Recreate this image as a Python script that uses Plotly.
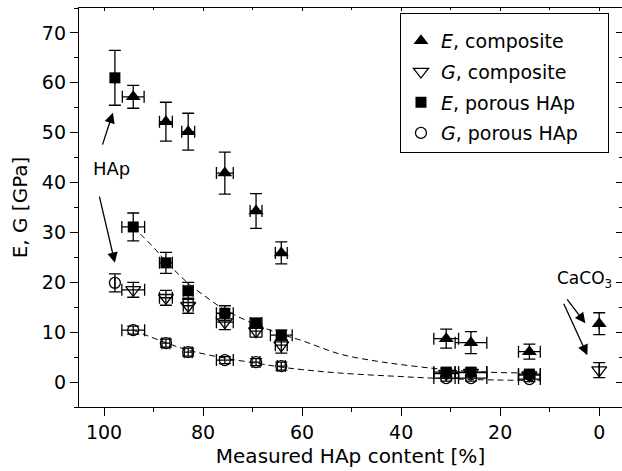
import plotly.graph_objects as go

FONT = "DejaVu Sans, Liberation Sans, Arial, sans-serif"

# ---- data ----
# E, composite
ec_x = [94.1, 87.5, 83.0, 75.6, 69.3, 64.2, 30.9, 25.9, 14.1, 0.0]
ec_y = [57.2, 52.2, 50.2, 41.9, 34.3, 25.9, 8.7, 7.9, 6.1, 11.7]
ec_ey = [2.3, 3.9, 3.7, 4.2, 3.5, 2.2, 1.9, 2.2, 1.5, 2.2]
ec_ex = [2.2, 1.3, 1.3, 1.7, 1.2, 1.2, 2.5, 3.2, 2.2, 0.0]

# G, composite
gc_x = [94.1, 87.5, 83.0, 75.6, 69.3, 64.2, 30.9, 25.9, 14.1, 0.0]
gc_y = [18.5, 16.9, 15.3, 12.0, 10.2, 7.4, 1.7, 1.9, 1.4, 2.4]
gc_ey = [1.5, 1.5, 1.5, 1.5, 1.2, 1.6, 0.6, 0.6, 0.5, 1.5]
gc_ex = [2.3, 1.3, 1.0, 1.7, 1.2, 1.2, 2.5, 3.2, 2.2, 0.0]

# E, porous HAp
ep_x = [97.8, 94.1, 87.5, 83.0, 75.6, 69.3, 64.2, 30.9, 25.9, 14.1]
ep_y = [61.0, 31.1, 23.9, 18.3, 13.8, 11.8, 9.4, 2.0, 2.0, 1.6]
ep_ey = [5.5, 2.8, 2.1, 1.7, 1.5, 1.0, 1.0, 0.8, 0.8, 0.6]
ep_ex = [0.0, 2.3, 1.3, 1.0, 1.7, 1.2, 2.2, 2.5, 3.2, 2.2]

# G, porous HAp
gp_x = [97.8, 94.1, 87.5, 83.0, 75.6, 69.3, 64.2, 30.9, 25.9, 14.1]
gp_y = [19.9, 10.4, 7.8, 6.0, 4.4, 4.0, 3.2, 0.8, 0.8, 0.6]
gp_ey = [1.8, 0.8, 0.8, 0.8, 0.7, 0.7, 0.8, 0.6, 0.6, 0.5]
gp_ex = [0.0, 2.3, 0.8, 0.8, 1.7, 0.8, 0.8, 2.5, 3.2, 2.2]

# dashed fit curves
fitE_x = [94.1, 90.0, 87.5, 83.0, 80.0, 75.6, 70.0, 64.2, 60.0, 52.3, 45.0, 40.0, 34.0, 30.0, 25.0, 20.0, 14.0, 12.0]
fitE_y = [31.1, 27.0, 24.2, 19.8, 17.5, 14.5, 11.8, 9.6, 8.3, 5.6, 4.2, 3.5, 2.8, 2.4, 2.1, 1.9, 1.8, 1.7]
fitG_x = [94.1, 87.5, 83.0, 75.6, 69.3, 64.2, 60.0, 52.3, 40.0, 34.0, 25.0, 20.0, 12.0]
fitG_y = [10.4, 7.9, 6.4, 4.8, 3.8, 3.0, 2.5, 1.8, 1.1, 0.8, 0.5, 0.4, 0.3]

x_ticks = [0, 20, 40, 60, 80, 100]
y_ticks = [0, 10, 20, 30, 40, 50, 60, 70]

PAD = "\u00a0" * 4  # right padding inside the legend box

fig = go.Figure()

def err(arr, w):
    return dict(type="data", array=arr, visible=True, color="black", thickness=1.3, width=w)

for fx, fy in ((fitE_x, fitE_y), (fitG_x, fitG_y)):
    fig.add_trace(go.Scatter(x=fx, y=fy, mode="lines",
                             line=dict(color="black", width=1, dash="6px,4px", shape="spline"),
                             showlegend=False, hoverinfo="skip"))

fig.add_trace(go.Scatter(x=ec_x, y=ec_y, mode="markers", name="<i>E</i>, composite" + PAD, legendgroup="a",
                         marker=dict(symbol="triangle-up", size=13, color="black"),
                         error_y=err(ec_ey, 6), error_x=err(ec_ex, 6)))
fig.add_trace(go.Scatter(x=gc_x, y=gc_y, mode="markers", name="<i>G</i>, composite" + PAD, legendgroup="b",
                         marker=dict(symbol="triangle-down-open", size=13, color="black", line=dict(width=1.3)),
                         error_y=err(gc_ey, 6), error_x=err(gc_ex, 6)))
fig.add_trace(go.Scatter(x=ep_x, y=ep_y, mode="markers", name="<i>E</i>, porous HAp" + PAD, legendgroup="c",
                         marker=dict(symbol="square", size=11, color="black"),
                         error_y=err(ep_ey, 6), error_x=err(ep_ex, 6)))
fig.add_trace(go.Scatter(x=gp_x, y=gp_y, mode="markers", name="<i>G</i>, porous HAp" + PAD, legendgroup="d",
                         marker=dict(symbol="circle-open", size=11, color="black", line=dict(width=1.3)),
                         error_y=err(gp_ey, 6), error_x=err(gp_ex, 6)))

# invisible trace for mirrored axes
fig.add_trace(go.Scatter(x=[50], y=[30], xaxis="x2", yaxis="y2", mode="markers",
                         marker=dict(opacity=0), showlegend=False, hoverinfo="skip"))

xr = [105.05, -4.6]
yr = [-5.0, 75.0]

fig.update_layout(
    width=622, height=471,
    margin=dict(l=79, r=0, t=8, b=64),
    paper_bgcolor="white", plot_bgcolor="white",
    font=dict(family=FONT, size=19, color="black"),
    xaxis=dict(range=xr, tickvals=x_ticks, ticks="outside", ticklen=8, tickwidth=1.3, tickcolor="black",
               showline=True, linecolor="black", linewidth=1.3, showgrid=False, zeroline=False,
               minor=dict(dtick=10, tick0=0, ticks="outside", ticklen=4, tickwidth=1.1, tickcolor="black", showgrid=False),
               title=dict(text="Measured HAp content [%]", font=dict(size=20), standoff=7),
               tickfont=dict(size=19)),
    yaxis=dict(range=yr, tickvals=y_ticks, ticks="outside", ticklen=8, tickwidth=1.3, tickcolor="black",
               showline=True, linecolor="black", linewidth=1.3, showgrid=False, zeroline=False,
               minor=dict(dtick=5, tick0=0, ticks="outside", ticklen=4, tickwidth=1.1, tickcolor="black", showgrid=False),
               title=dict(text="E, G [GPa]", font=dict(size=20), standoff=8),
               tickfont=dict(size=19)),
    xaxis2=dict(range=xr, overlaying="x", side="top", tickvals=x_ticks, ticks="inside", ticklen=3, tickcolor="black",
                showticklabels=False, showline=True, linecolor="black", linewidth=1.3, showgrid=False, zeroline=False,
                minor=dict(dtick=10, tick0=0, ticks="inside", ticklen=2, tickcolor="black", showgrid=False)),
    yaxis2=dict(range=yr, overlaying="y", side="right", tickvals=y_ticks, ticks="inside", ticklen=6, tickcolor="black",
                showticklabels=False, showline=True, linecolor="black", linewidth=1.3, showgrid=False, zeroline=False,
                minor=dict(dtick=5, tick0=0, ticks="inside", ticklen=3, tickcolor="black", showgrid=False)),
    legend=dict(x=0.976, xanchor="right", y=0.987, yanchor="top", bgcolor="white", bordercolor="black",
                borderwidth=1, font=dict(size=19), tracegroupgap=3, itemwidth=30,
                title=dict(text="\u00a0", font=dict(size=6))),
)

# annotations
arrow = dict(showarrow=True, arrowhead=2, arrowsize=1.6, arrowwidth=1.3, arrowcolor="black",
             text="", xref="x", yref="y", axref="x", ayref="y")
fig.add_annotation(x=98.2, y=54.0, ax=100.4, ay=47.3, **arrow)
fig.add_annotation(x=97.8, y=23.9, ax=101.0, ay=37.5, **arrow)
fig.add_annotation(x=2.8, y=11.8, ax=6.7, ay=16.9, **arrow)
fig.add_annotation(x=2.4, y=5.4, ax=7.3, ay=16.0, **arrow)
fig.add_annotation(x=98.4, y=42.9, text="HAp", showarrow=False, font=dict(size=18), xref="x", yref="y")
fig.add_annotation(x=-3.0, y=20.6, text="CaCO<sub>3</sub>", showarrow=False, font=dict(size=17),
                   xref="x", yref="y", xanchor="right")

fig.write_html("out.html")
